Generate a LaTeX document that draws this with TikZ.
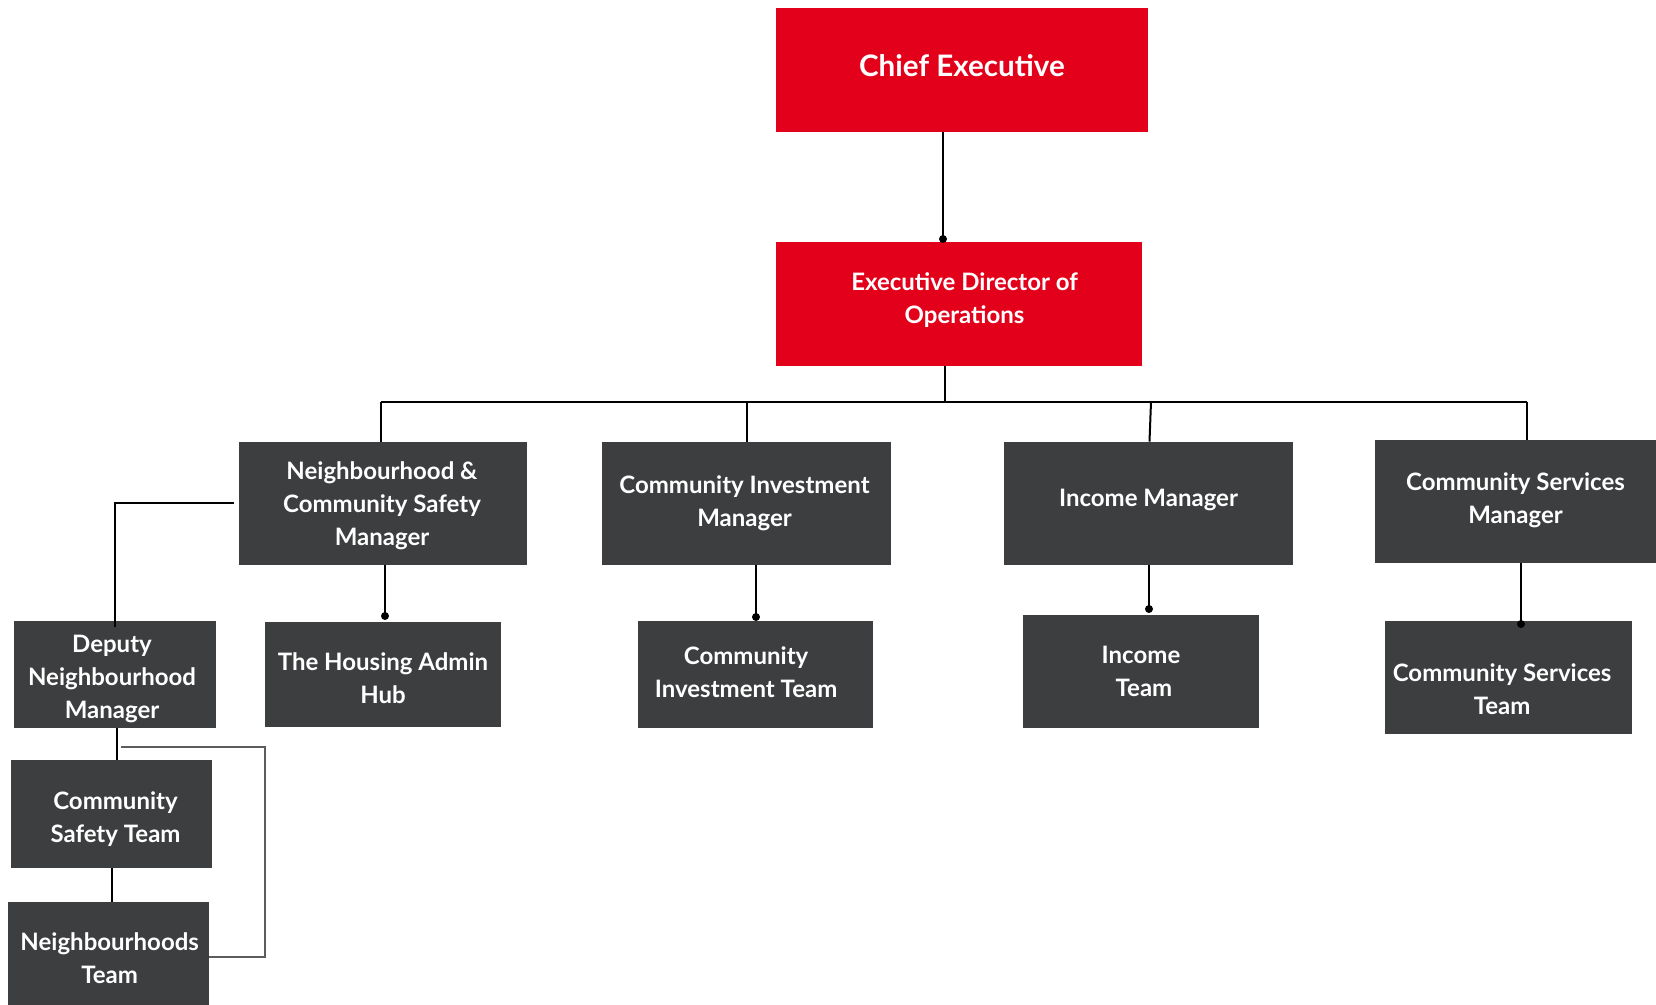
\documentclass[tikz,border=0pt]{standalone}
\usepackage{fontspec}
\setmainfont{Lato}
\definecolor{rosso}{HTML}{E2001A}
\definecolor{grigio}{HTML}{3D3E40}
\definecolor{grigiolinea}{HTML}{5C5C5C}
% testo spostato: {dx}{dy}{righe}
\newcommand{\etichetta}[3]{\kern#1\raisebox{#2}[\height][\depth]{\begin{tabular}{@{}c@{}}#3\end{tabular}}\kern-#1}
\tikzset{
    rossobox/.style={fill=rosso, text=white, inner sep=0pt, font=\bfseries\fontsize{12}{16.5}\selectfont},
    grigiobox/.style={fill=grigio, text=white, inner sep=0pt, font=\bfseries\fontsize{12}{16.5}\selectfont},
    linea/.style={line width=1pt, black}
}
\begin{document}
\begin{tikzpicture}[x=0.5pt, y=-0.5pt]
        \useasboundingbox (0,0) rectangle (1656,1005);

        % Disegna i riquadri rossi
        \node[rossobox, minimum width=186pt, minimum height=62pt, font=\bfseries\fontsize{14.8}{18}\selectfont] (ce) at (962,70) {\etichetta{0pt}{0.2pt}{Chief Executive}};
        \node[rossobox, minimum width=183pt, minimum height=62pt] (ed) at (959,304) {\etichetta{2.8pt}{1.7pt}{Executive Director of\\Operations}};

        % Disegna i manager
        \node[grigiobox, minimum width=144pt, minimum height=61.5pt] (ncs) at (383,503.5) {\etichetta{-0.5pt}{-1.3pt}{Neighbourhood \&\\Community Safety\\Manager}};
        \node[grigiobox, minimum width=144.5pt, minimum height=61.5pt] (cim) at (746.5,503.5) {\etichetta{-1pt}{0.2pt}{Community Investment\\Manager}};
        \node[grigiobox, minimum width=144.5pt, minimum height=61.5pt] (im) at (1148.5,503.5) {\etichetta{0pt}{1.7pt}{Income Manager}};
        \node[grigiobox, minimum width=140.5pt, minimum height=61.5pt] (csm) at (1515.5,501.5) {\etichetta{0pt}{0.4pt}{Community Services\\Manager}};

        % Disegna i team
        \node[grigiobox, minimum width=101pt, minimum height=53.5pt] (dep) at (115,674.5) {\etichetta{-1.5pt}{-2pt}{Deputy\\Neighbourhood\\Manager}};
        \node[grigiobox, minimum width=118pt, minimum height=52.5pt] (hah) at (383,674.5) {\etichetta{0pt}{-3pt}{The Housing Admin\\Hub}};
        \node[grigiobox, minimum width=117.5pt, minimum height=53.5pt] (cit) at (755.5,674.5) {\etichetta{-4.7pt}{0.2pt}{Community\\Investment Team}};
        \node[grigiobox, minimum width=118pt, minimum height=56.5pt] (it) at (1141,671.5) {\etichetta{0pt}{-0.8pt}{Income\\\kern3pt Team}};
        \node[grigiobox, minimum width=123.5pt, minimum height=56.5pt] (cst) at (1508.5,677.5) {\etichetta{-3.2pt}{-6.8pt}{Community Services\\Team}};
        \node[grigiobox, minimum width=100.5pt, minimum height=54pt] (safety) at (111.5,814) {\etichetta{2pt}{-2.5pt}{Community\\Safety Team}};
        \node[grigiobox, minimum width=100.5pt, minimum height=51.5pt] (nt) at (108.5,953.5) {\etichetta{0.6pt}{-3.5pt}{Neighbourhoods\\Team}};

        % Punti di arrivo
        \coordinate (p-ed) at (943,239);
        \coordinate (p-hah) at (385,616);
        \coordinate (p-cit) at (756,617);
        \coordinate (p-it) at (1149,609);
        \coordinate (p-cst) at (1521,624);

        % Barra orizzontale
        \coordinate (bus-l) at (381,402);
        \coordinate (bus-ed) at (945,402);
        \coordinate (bus-im) at (1151,402);
        \coordinate (bus-r) at (1527,402);

        \draw[linea] (p-ed |- ce.south) -- (p-ed);
        \fill (p-ed) circle (2pt);
        \draw[linea] (bus-ed |- ed.south) -- (bus-ed);
        \draw[linea] (bus-l) -- (bus-r);
        \draw[linea] (bus-l) -- (bus-l |- ncs.north);
        \draw[linea] (cim.north |- bus-l) -- (cim.north);
        \draw[linea] (bus-im) -- ([xshift=0.5pt]im.north);
        \draw[linea] (bus-r) -- (bus-r |- csm.north);

        % Collegamenti manager - team
        \draw[linea] (p-hah |- ncs.south) -- (p-hah);
        \fill (p-hah) circle (2pt);
        \draw[linea] (p-cit |- cim.south) -- (p-cit);
        \fill (p-cit) circle (2pt);
        \draw[linea] (p-it |- im.south) -- (p-it);
        \fill (p-it) circle (2pt);
        \draw[linea] (p-cst |- csm.south) -- (p-cst);
        \fill (p-cst) circle (2pt);

        % Ramo a sinistra
        \draw[linea] ([xshift=-2.5pt]ncs.west) -- (dep.north |- ncs.west) -- ([yshift=-3pt]dep.north);
        \draw[linea] ([xshift=1pt]dep.south) -- ([xshift=1pt]dep.south |- safety.north);
        \draw[linea] (safety.south) -- (safety.south |- nt.north);
        \draw[line width=1pt, grigiolinea] ([xshift=3pt]dep.south |- 0,747) -- (265,747) -- (265,957) -- (nt.east |- 0,957);
    \end{tikzpicture}
\end{document}
